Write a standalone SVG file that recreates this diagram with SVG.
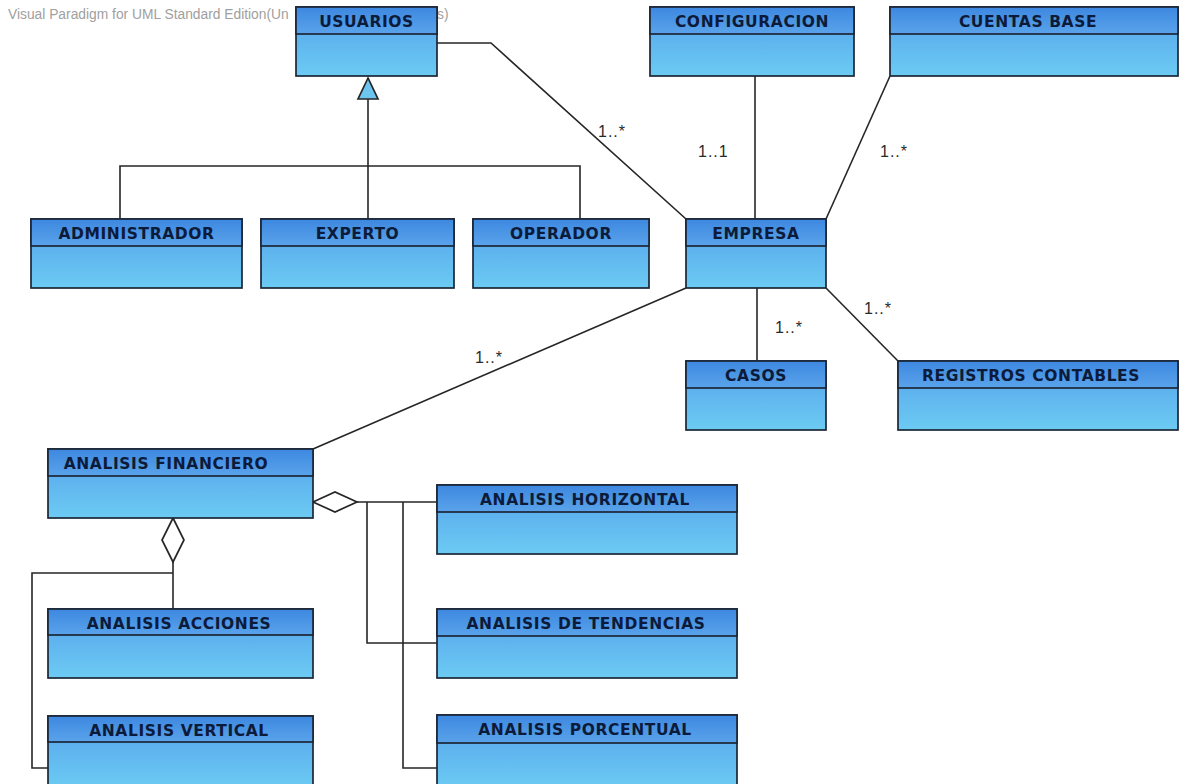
<svg xmlns="http://www.w3.org/2000/svg" width="1179" height="784" viewBox="0 0 1179 784">
  <defs>
    <linearGradient id="gHead" x1="0" y1="0" x2="0" y2="1">
      <stop offset="0" stop-color="#3d88e0"/>
      <stop offset="1" stop-color="#5aa3eb"/>
    </linearGradient>
    <linearGradient id="gBody" x1="0" y1="0" x2="0" y2="1">
      <stop offset="0" stop-color="#54a0ea"/>
      <stop offset="1" stop-color="#6ccbf3"/>
    </linearGradient>
    <style>
      .body { fill: url(#gBody); stroke: #1c2636; stroke-width: 1.7; }
      .head { fill: url(#gHead); stroke: #1c2636; stroke-width: 1.7; }
      .name { font-family: "DejaVu Sans", Verdana, sans-serif; font-weight: bold; font-size: 15.5px; letter-spacing: 0.6px; fill: #0d1b3a; text-anchor: middle; }
      .conn { fill: none; stroke: #262626; stroke-width: 1.6; }
      .mult { font-family: "Liberation Sans", Arial, sans-serif; font-size: 16px; letter-spacing: 1px; fill: #2a2a2a; }
      .wm { font-family: "Liberation Sans", Arial, sans-serif; font-size: 13.8px; fill: #a0a0a0; }
    </style>
  </defs>
  <rect width="1179" height="784" fill="#ffffff"/>

  <!-- tool watermark -->
  <text class="wm" x="8" y="19">Visual Paradigm for UML Standard Edition(Un</text>
  <text class="wm" x="437" y="19">s)</text>

  <!-- connectors -->
  <g id="connectors">
    <!-- generalization -->
    <polyline class="conn" points="368,99 368,219"/>
    <polyline class="conn" points="120,219 120,166 580,166 580,219"/>
    <polygon points="368,78 358,99 378,99" fill="#6cc4ef" stroke="#262626" stroke-width="1.7"/>
    <!-- associations with EMPRESA -->
    <polyline class="conn" points="437,43 491,43 686,219"/>
    <line class="conn" x1="755" y1="76" x2="755" y2="219"/>
    <line class="conn" x1="890" y1="76" x2="826" y2="219"/>
    <line class="conn" x1="757" y1="288" x2="757" y2="361"/>
    <line class="conn" x1="826" y1="288" x2="898" y2="361"/>
    <line class="conn" x1="686" y1="288" x2="313" y2="449"/>
    <!-- aggregation: ANALISIS FINANCIERO parts -->
    <polyline class="conn" points="357,502 437,502"/>
    <polyline class="conn" points="367,502 367,643 437,643"/>
    <polyline class="conn" points="403,502 403,768 437,768"/>
    <polyline class="conn" points="173,562 173,609"/>
    <polyline class="conn" points="173,573 32,573 32,768 48,768"/>
    <polygon points="313,502 335,492 357,502 335,512" fill="#ffffff" stroke="#262626" stroke-width="1.7"/>
    <polygon points="173,518 184,540 173,562 162,540" fill="#ffffff" stroke="#262626" stroke-width="1.7"/>
    <!-- multiplicities -->
    <text class="mult" x="598" y="137">1..*</text>
    <text class="mult" x="698" y="157">1..1</text>
    <text class="mult" x="880" y="157">1..*</text>
    <text class="mult" x="775" y="333">1..*</text>
    <text class="mult" x="864" y="314">1..*</text>
    <text class="mult" x="475" y="363">1..*</text>
  </g>

  <g id="usuarios">
    <rect class="body" x="296" y="7" width="141" height="69"/>
    <rect class="head" x="296" y="7" width="141" height="27"/>
    <text class="name" x="366.5" y="27">USUARIOS</text>
  </g>
  <g id="configuracion">
    <rect class="body" x="650" y="7" width="204" height="69"/>
    <rect class="head" x="650" y="7" width="204" height="27"/>
    <text class="name" x="752" y="27">CONFIGURACION</text>
  </g>
  <g id="cuentas-base">
    <rect class="body" x="890" y="7" width="288" height="69"/>
    <rect class="head" x="890" y="7" width="288" height="27"/>
    <text class="name" x="1028" y="27">CUENTAS BASE</text>
  </g>
  <g id="administrador">
    <rect class="body" x="31" y="219" width="211" height="69"/>
    <rect class="head" x="31" y="219" width="211" height="27"/>
    <text class="name" x="136.5" y="239">ADMINISTRADOR</text>
  </g>
  <g id="experto">
    <rect class="body" x="261" y="219" width="193" height="69"/>
    <rect class="head" x="261" y="219" width="193" height="27"/>
    <text class="name" x="357.5" y="239">EXPERTO</text>
  </g>
  <g id="operador">
    <rect class="body" x="473" y="219" width="176" height="69"/>
    <rect class="head" x="473" y="219" width="176" height="27"/>
    <text class="name" x="561" y="239">OPERADOR</text>
  </g>
  <g id="empresa">
    <rect class="body" x="686" y="219" width="140" height="69"/>
    <rect class="head" x="686" y="219" width="140" height="27"/>
    <text class="name" x="756" y="239">EMPRESA</text>
  </g>
  <g id="casos">
    <rect class="body" x="686" y="361" width="140" height="69"/>
    <rect class="head" x="686" y="361" width="140" height="27"/>
    <text class="name" x="756" y="381">CASOS</text>
  </g>
  <g id="registros-contables">
    <rect class="body" x="898" y="361" width="280" height="69"/>
    <rect class="head" x="898" y="361" width="280" height="27"/>
    <text class="name" x="1031" y="381">REGISTROS CONTABLES</text>
  </g>
  <g id="analisis-financiero">
    <rect class="body" x="48" y="449" width="265" height="69"/>
    <rect class="head" x="48" y="449" width="265" height="27"/>
    <text class="name" x="166" y="469">ANALISIS FINANCIERO</text>
  </g>
  <g id="analisis-horizontal">
    <rect class="body" x="437" y="485" width="300" height="69"/>
    <rect class="head" x="437" y="485" width="300" height="27"/>
    <text class="name" x="585" y="505">ANALISIS HORIZONTAL</text>
  </g>
  <g id="analisis-acciones">
    <rect class="body" x="48" y="609" width="265" height="69"/>
    <rect class="head" x="48" y="609" width="265" height="26"/>
    <text class="name" x="179" y="629">ANALISIS ACCIONES</text>
  </g>
  <g id="analisis-de-tendencias">
    <rect class="body" x="437" y="609" width="300" height="69"/>
    <rect class="head" x="437" y="609" width="300" height="27"/>
    <text class="name" x="586" y="629">ANALISIS DE TENDENCIAS</text>
  </g>
  <g id="analisis-vertical">
    <rect class="body" x="48" y="716" width="265" height="72"/>
    <rect class="head" x="48" y="716" width="265" height="26"/>
    <text class="name" x="179" y="736">ANALISIS  VERTICAL</text>
  </g>
  <g id="analisis-porcentual">
    <rect class="body" x="437" y="715" width="300" height="73"/>
    <rect class="head" x="437" y="715" width="300" height="28"/>
    <text class="name" x="585" y="735">ANALISIS PORCENTUAL</text>
  </g>
</svg>
